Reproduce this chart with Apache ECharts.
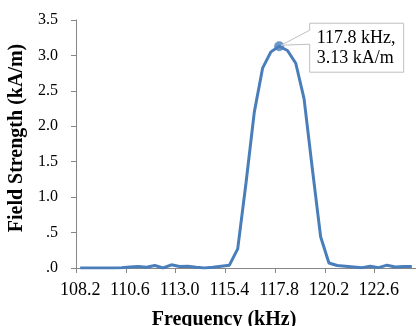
<!DOCTYPE html>
<html>
<head>
<meta charset="utf-8">
<script src="https://cdn.jsdelivr.net/npm/echarts@6/dist/echarts.min.js"></script>
<style>html,body{margin:0;padding:0;background:#fff;overflow:hidden;}#c{width:416px;height:326px;}</style>
</head>
<body>
<div id="c"></div>
<script>
var frequencies = ['108.2','108.6','109.0','109.4','109.8','110.2','110.6','111.0','111.4','111.8',
  '112.2','112.6','113.0','113.4','113.8','114.2','114.6','115.0','115.4','115.8',
  '116.2','116.6','117.0','117.4','117.8','118.2','118.6','119.0','119.4','119.8',
  '120.2','120.6','121.0','121.4','121.8','122.2','122.6','123.0','123.4','123.8','124.2'];
var fieldStrength = [0.00,0.00,0.00,0.00,0.00,0.005,0.015,0.02,0.01,0.035,
  0.00,0.045,0.02,0.025,0.01,0.00,0.01,0.025,0.04,0.27,
  1.20,2.20,2.82,3.05,3.13,3.07,2.89,2.39,1.40,0.44,
  0.07,0.035,0.025,0.015,0.005,0.025,0.005,0.04,0.015,0.02,0.02];
var yTicks = [0, 0.5, 1.0, 1.5, 2.0, 2.5, 3.0, 3.5];
var peakIndex = 24;
var peakLabel = ['117.8 kHz,', '3.13 kA/m'];

var serif = 'Liberation Serif, Times New Roman, serif';
var axisGray = '#868686';
var blue = '#4a7ebb';

var chart = echarts.init(document.getElementById('c'), null, {renderer: 'canvas', width: 416, height: 326});
chart.setOption({
  animation: false,
  backgroundColor: '#fff',
  grid: {left: 76, right: 0, top: 20, bottom: 58, containLabel: false, outerBoundsMode: 'none'},
  xAxis: {
    type: 'category',
    data: frequencies,
    boundaryGap: true,
    name: 'Frequency (kHz)',
    nameLocation: 'middle',
    nameGap: 42,
    nameTextStyle: {fontFamily: serif, fontSize: 20, fontWeight: 'bold', color: '#000', padding: [0, 44, 0, 0]},
    axisLine: {lineStyle: {color: axisGray, width: 1}},
    axisTick: {show: true, interval: 5, length: 5, lineStyle: {color: axisGray}},
    axisLabel: {interval: 5, fontFamily: serif, fontSize: 18, color: '#000', margin: 13},
    splitLine: {show: false}
  },
  yAxis: {
    type: 'value',
    min: yTicks[0],
    max: yTicks[yTicks.length - 1],
    interval: 0.5,
    name: 'Field Strength (kA/m)',
    nameLocation: 'middle',
    nameGap: 46,
    nameRotate: 90,
    nameTextStyle: {fontFamily: serif, fontSize: 20, fontWeight: 'bold', color: '#000', padding: [0, 0, 0, 12]},
    axisLine: {show: true, lineStyle: {color: axisGray, width: 1}},
    axisTick: {show: true, length: 5, lineStyle: {color: axisGray}},
    axisLabel: {
      fontFamily: serif, fontSize: 16, color: '#000', margin: 18,
      formatter: function (v) { return v.toFixed(1).replace(/^0/, ''); }
    },
    splitLine: {show: false}
  },
  series: [{
    type: 'line',
    data: fieldStrength,
    showSymbol: false,
    symbol: 'none',
    lineStyle: {color: blue, width: 3},
    itemStyle: {color: blue}
  }, {
    type: 'scatter',
    data: [[peakIndex, fieldStrength[peakIndex]]],
    symbol: 'circle',
    symbolSize: 10,
    itemStyle: {color: blue},
    z: 5
  }]
});

var pk = chart.convertToPixel({gridIndex: 0}, [peakIndex, fieldStrength[peakIndex]]);
var px = pk[0], py = pk[1];
var boxLeft = px + 30.5, boxTop = py - 23, boxBottom = py + 26, boxRight = px + 124.5;
chart.setOption({
  graphic: [{
    type: 'polygon',
    shape: {points: [[px + 2, py - 1], [boxLeft, py - 16], [boxLeft, boxTop], [boxRight, boxTop], [boxRight, boxBottom], [boxLeft, boxBottom], [boxLeft, py - 2]]},
    style: {fill: '#fff', stroke: '#bfbfbf', lineWidth: 1},
    z: 10
  }, {
    type: 'text',
    x: boxLeft + 7,
    y: boxTop + 5,
    style: {text: peakLabel.join('\n'), font: '18px ' + serif, fill: '#000', lineHeight: 20},
    z: 11
  }]
});
</script>
</body>
</html>
